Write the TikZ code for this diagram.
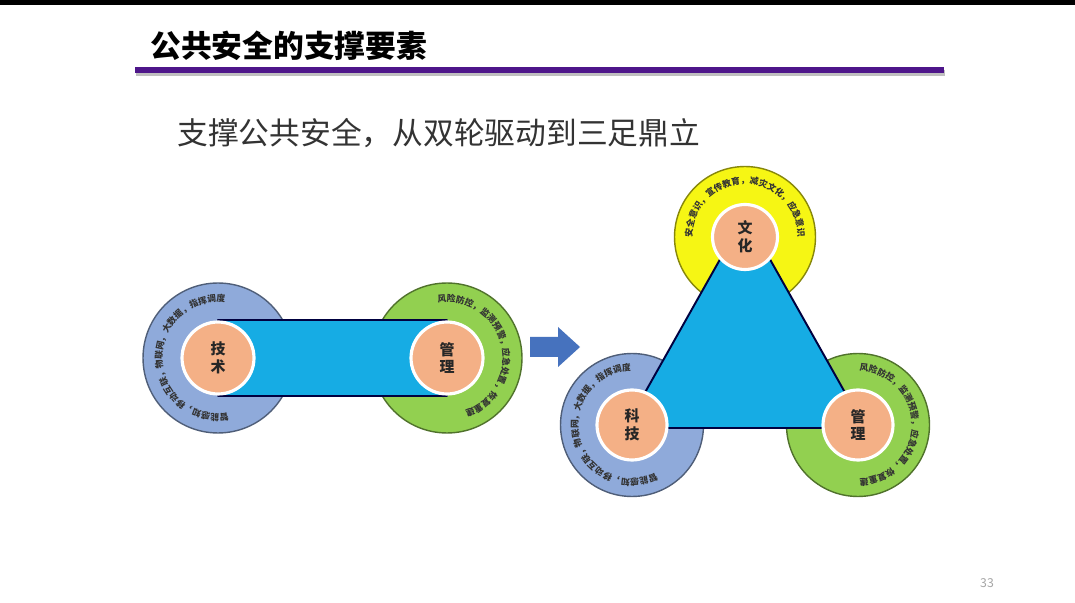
\documentclass[tikz,border=0pt]{standalone}
\usepackage{fontspec}
\newfontfamily\cjk{Noto Sans CJK SC}
\usetikzlibrary{calc,decorations.text}

\definecolor{ringblue}{RGB}{143,170,218}
\definecolor{ringgreen}{RGB}{146,208,80}
\definecolor{ringyellow}{RGB}{246,246,20}
\definecolor{corefill}{RGB}{244,176,134}
\definecolor{barcyan}{RGB}{22,172,228}
\definecolor{arrowblue}{RGB}{70,114,190}
\definecolor{titlepurple}{RGB}{78,22,138}

\def\ringfont{\cjk\bfseries\fontsize{5}{6}\selectfont}
\def\corefont{\cjk\bfseries\fontsize{8.5}{10}\selectfont}

\tikzset{
	ring/.style={circle, fill=#1, draw=#1!55!black, line width=0.8pt, inner sep=0pt},
	core/.style={circle, fill=corefill, draw=white, line width=1.8pt, inner sep=0pt, align=center, font=\corefont, text=black!85},
	bar/.style={fill=barcyan, draw=black!75!blue, line width=1.1pt, line join=round},
	ringtext/.style={decorate, decoration={text along path, text align=center, text={|\ringfont\color{black!80}|#1}}}
}

\begin{document}
\begin{tikzpicture}[x=0.02cm, y=0.02cm]
	%%%%% START %%%%%
	
	\useasboundingbox (0, 0) rectangle (1075, 602);
	\fill[white] (0, 0) rectangle (1075, 602);
	\fill[black] (0, 597) rectangle (1075, 602);
	
	\node[anchor=west, inner sep=0pt] (title) at (150, 556) {\cjk\bfseries\fontsize{17.5}{20}\selectfont 公共安全的支撑要素};
	\draw[line width=3pt, black!25] (136, 529) -- (945, 529);
	\draw[line width=3pt, titlepurple] (135, 532) -- (944, 532);
	
	\node[anchor=west, inner sep=0pt, text=black!80] (sub) at (177, 469) {\cjk\fontsize{17.5}{20}\selectfont 支撑公共安全，从双轮驱动到三足鼎立};
	
	% two wheels
	\node[ring=ringblue, minimum size=3cm] (jishuring) at (218, 244) {};
	\node[ring=ringgreen, minimum size=3cm] (guanliring) at (447, 244) {};
	\path[ringtext={智能感知，移动互联，物联网，大数据，指挥调度}] ($(jishuring.center)+(-62:56)$) arc (-62:-295:56);
	\path[ringtext={风险防控，监测预警，应急处置，恢复重建}] ($(guanliring.center)+(140:56)$) arc (140:-112:56);
	\draw[bar] ($(jishuring.center)+(0, -38)$) rectangle ($(guanliring.center)+(0, 38)$);
	\node[core, minimum size=1.44cm] (jishu) at (jishuring.center) {技\\术};
	\node[core, minimum size=1.44cm] (guanli) at (guanliring.center) {管\\理};
	
	% arrow
	\fill[arrowblue] (530, 245) -- (558, 245) -- (558, 235) -- (580, 255) -- (558, 275) -- (558, 265) -- (530, 265) -- cycle;
	
	% three legs
	\node[ring=ringyellow, minimum size=2.82cm] (wenhuaring) at (745, 365) {};
	\node[ring=ringblue, minimum size=2.86cm] (kejiring) at (632, 177) {};
	\node[ring=ringgreen, minimum size=2.86cm] (guanli2ring) at (858, 177) {};
	\path[ringtext={安全意识，宣传教育，减灾文化，应急意识}] ($(wenhuaring.center)+(205:53)$) arc (205:-25:53);
	\path[ringtext={智能感知，移动互联，物联网，大数据，指挥调度}] ($(kejiring.center)+(-55:54)$) arc (-55:-278:54);
	\path[ringtext={风险防控，监测预警，应急处置，恢复重建}] ($(guanli2ring.center)+(112:54)$) arc (112:-112:54);
	\draw[bar] ($(wenhuaring.center)+(0, 22)$) -- ($(kejiring.center)+(-7, -3)$) -- ($(guanli2ring.center)+(7, -3)$) -- cycle;
	\node[core, minimum size=1.3cm] (wenhua) at (wenhuaring.center) {文\\化};
	\node[core, minimum size=1.4cm] (keji) at (kejiring.center) {科\\技};
	\node[core, minimum size=1.4cm] (guanli2) at (guanli2ring.center) {管\\理};
	
	\node[text=black!35, inner sep=0pt] (page) at (987, 19) {\cjk\fontsize{7}{8}\selectfont 33};
	
	%%%%% END %%%%%
\end{tikzpicture}
\end{document}
